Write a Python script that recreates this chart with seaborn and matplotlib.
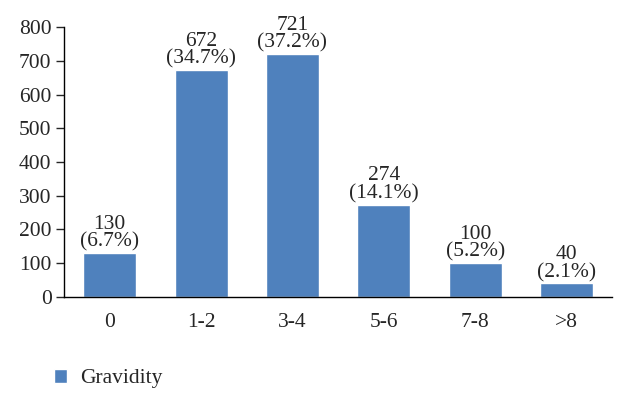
import pandas as pd
import numpy as np
import matplotlib
matplotlib.use("Agg")
import matplotlib.pyplot as plt
import seaborn as sns

categories = ["0", "1-2", "3-4", "5-6", "7-8", ">8"]
counts = [130, 672, 721, 274, 100, 40]
percents = ["6.7%", "34.7%", "37.2%", "14.1%", "5.2%", "2.1%"]

df = pd.DataFrame({"Gravidity": categories, "Count": counts})

sns.set_style("white")
plt.rcParams['font.family'] = ['Liberation Serif', 'DejaVu Serif']

fig = plt.figure(figsize=(6.28, 4.04), dpi=100)
ax = fig.add_axes([0.102, 0.265, 0.873, 0.668])

sns.barplot(data=df, x="Gravidity", y="Count", color="#4F81BD", width=0.58,
            saturation=1, ax=ax, label="Gravidity")

# value + share above each bar
for i, (c, p) in enumerate(zip(counts, percents)):
    ax.annotate(f"{c}\n({p})", (i, c), xytext=(0, 1), textcoords="offset points",
                ha="center", va="bottom", fontsize=15.5, linespacing=0.9)

ax.set_ylim(0, 800)
ax.set_yticks(range(0, 801, 100))
ax.set_xlim(-0.5, 5.5)
ax.set_xlabel("")
ax.set_ylabel("")
for s in ["top", "right"]:
    ax.spines[s].set_visible(False)
for s in ["left", "bottom"]:
    ax.spines[s].set_color("black")
    ax.spines[s].set_linewidth(1)
ax.tick_params(axis="y", left=True, length=6, width=1, labelsize=15.5, pad=3)
ax.tick_params(axis="x", bottom=False, labelsize=15.5, pad=8)

ax.legend().remove()
h, l = ax.get_legend_handles_labels()
fig.legend(h, l, loc="center left", bbox_to_anchor=(0.055, 0.063), frameon=False,
           fontsize=15.5, handlelength=0.6, handleheight=0.6, handletextpad=0.6)

fig.savefig("out.png", dpi=100)
